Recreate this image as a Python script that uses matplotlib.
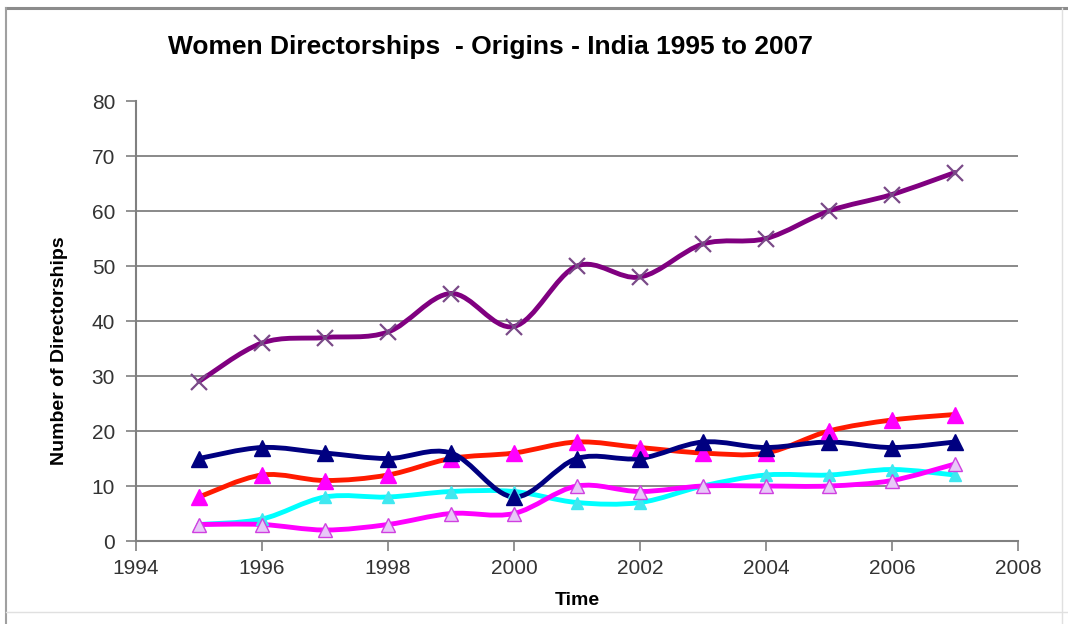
import numpy as np
import matplotlib.pyplot as plt
from matplotlib.path import Path
from matplotlib.patches import PathPatch
from matplotlib.lines import Line2D

plt.rcParams['font.family'] = ['Liberation Sans', 'DejaVu Sans']

# ---------------- data ----------------
years = [1995, 1996, 1997, 1998, 1999, 2000, 2001, 2002, 2003, 2004, 2005, 2006, 2007]

purple_vals = [29, 36, 37, 38, 45, 39, 50, 48, 54, 55, 60, 63, 67]
navy_vals = [15, 17, 16, 15, 16, 8, 15, 15, 18, 17, 18, 17, 18]
red_vals = [8, 12, 11, 12, 15, 16, 18, 17, 16, 16, 20, 22, 23]
cyan_vals = [3, 4, 8, 8, 9, 9, 7, 7, 10, 12, 12, 13, 12]
magenta_vals = [3, 3, 2, 3, 5, 5, 10, 9, 10, 10, 10, 11, 14]

title = 'Women Directorships  - Origins - India 1995 to 2007'


def smooth_path(xs, ys):
    # bezier segments through every point (catmull-rom style, like spreadsheet "smoothed line")
    pts = np.column_stack([xs, ys]).astype(float)
    n = len(pts)
    verts = [pts[0]]
    codes = [Path.MOVETO]
    for i in range(n - 1):
        p0 = pts[i - 1] if i > 0 else pts[i]
        p1 = pts[i]
        p2 = pts[i + 1]
        p3 = pts[i + 2] if i + 2 < n else pts[i + 1]
        c1 = p1 + (p2 - p0) / 6.0
        c2 = p2 - (p3 - p1) / 6.0
        verts += [c1, c2, p2]
        codes += [Path.CURVE4] * 3
    return Path(verts, codes)


fig = plt.figure(figsize=(10.68, 6.24), dpi=100)
ax = fig.add_axes([0.1273, 0.1330, 0.8258, 0.7051])

series = [
    # values, line colour, marker, marker face, marker edge, marker size
    (cyan_vals, '#00ffff', '^', '#40e8f0', '#40e8f0', 9),
    (magenta_vals, '#ff00ff', '^', '#e8c8f8', '#d040e0', 10),
    (red_vals, '#ff1a00', '^', '#ff00ff', '#ff00ff', 12),
    (navy_vals, '#000080', '^', '#000080', '#000080', 12),
    (purple_vals, '#800080', 'x', 'none', '#7a4a88', 12),
]

for vals, col, mk, mfc, mec, ms in series:
    ax.add_patch(PathPatch(smooth_path(years, vals), facecolor='none',
                           edgecolor=col, linewidth=3.5, capstyle='round',
                           joinstyle='round', zorder=3))
    ax.plot(years, vals, linestyle='none', marker=mk, markersize=ms,
            markerfacecolor=mfc, markeredgecolor=mec,
            markeredgewidth=1.6 if mk == 'x' else 1.0, zorder=4)

ax.set_xlim(1994, 2008)
ax.set_ylim(0, 80)
ax.set_xticks(range(1994, 2009, 2))
ax.set_yticks(range(0, 81, 10))

ax.set_axisbelow(True)
ax.grid(axis='y', color='#808080', linewidth=1.3)
ax.get_ygridlines()[-1].set_visible(False)

for s in ['top', 'right']:
    ax.spines[s].set_visible(False)
for s in ['left', 'bottom']:
    ax.spines[s].set_color('#808080')
    ax.spines[s].set_linewidth(1.5)
    ax.spines[s].set_zorder(2)

ax.tick_params(axis='both', direction='out', length=7, width=1.2,
               color='#808080', labelsize=15, labelcolor='#333333')
ax.tick_params(axis='x', pad=6)
ax.tick_params(axis='y', pad=8)

ax.set_xlabel('Time', fontsize=14, fontweight='bold', labelpad=10)
ax.set_ylabel('Number of Directorships', fontsize=14, fontweight='bold')
ax.yaxis.set_label_coords(-0.077, 0.432)

fig.text(0.1573, 0.925, title, fontsize=19, fontweight='bold', ha='left', va='center')

# chart frame
fig.add_artist(Line2D([6 / 1068, 1], [1 - 8 / 624, 1 - 8 / 624], color='#8c8c8c', linewidth=2.2))
fig.add_artist(Line2D([6 / 1068, 6 / 1068], [0, 1 - 8 / 624], color='#a0a0a0', linewidth=1.5))
fig.add_artist(Line2D([1062 / 1068, 1062 / 1068], [0, 1 - 8 / 624], color='#e0e0e0', linewidth=1.0))
fig.add_artist(Line2D([6 / 1068, 1], [1 - 612 / 624, 1 - 612 / 624], color='#e0e0e0', linewidth=1.0))

fig.savefig('out.png', dpi=100)
